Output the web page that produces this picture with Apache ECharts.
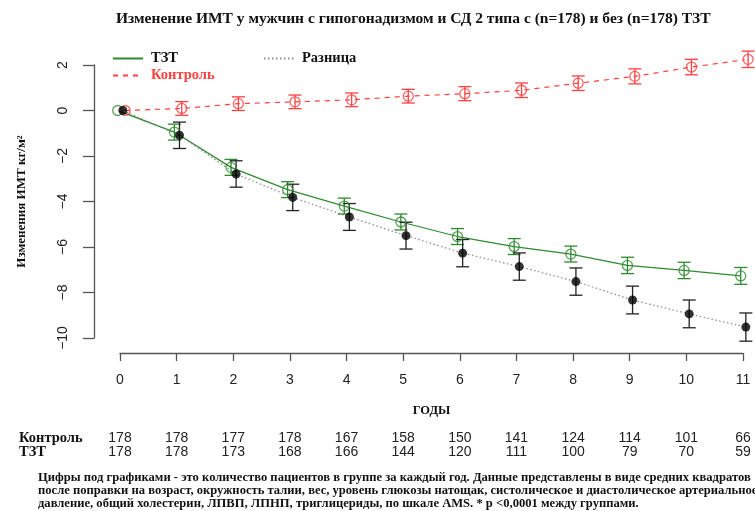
<!DOCTYPE html>
<html><head><meta charset="utf-8">
<script src="https://cdn.jsdelivr.net/npm/echarts@6/dist/echarts.min.js"></script>
<style>html,body{margin:0;padding:0;background:#fff}#c{width:755px;height:511px}</style>
</head><body><div id="c"></div>
<script>
// ---- data ----
const years = [0,1,2,3,4,5,6,7,8,9,10,11];
const controlMean = [0, 0.09, 0.30, 0.38, 0.47, 0.63, 0.74, 0.89, 1.20, 1.50, 1.91, 2.25];
const controlErr  = [0, 0.30, 0.30, 0.30, 0.30, 0.30, 0.31, 0.32, 0.32, 0.33, 0.34, 0.36];
const tztMean     = [0, -0.95, -2.50, -3.48, -4.20, -4.90, -5.54, -5.98, -6.31, -6.81, -7.03, -7.27];
const tztErr      = [0, 0.35, 0.35, 0.35, 0.35, 0.35, 0.35, 0.35, 0.35, 0.36, 0.36, 0.37];
const diffMean    = [0, -1.09, -2.79, -3.82, -4.68, -5.50, -6.27, -6.86, -7.52, -8.33, -8.94, -9.52];
const diffErr     = [0, 0.58, 0.58, 0.58, 0.59, 0.59, 0.60, 0.60, 0.60, 0.61, 0.61, 0.62];
const controlN    = [178, 178, 177, 178, 167, 158, 150, 141, 124, 114, 101, 66];
const tztN        = [178, 178, 173, 168, 166, 144, 120, 111, 100, 79, 70, 59];
const yTicks = { min: -10, max: 2, step: 2 };
const titleText = 'Изменение ИМТ у мужчин с гипогонадизмом и СД 2 типа с (n=178) и без (n=178) ТЗТ';
const yName = 'Изменения ИМТ кг/м²';
const xName = 'ГОДЫ';
const footnote = [
  'Цифры под графиками - это количество пациентов в группе за каждый год. Данные представлены в виде средних квадратов',
  'после поправки на возраст, окружность талии, вес, уровень глюкозы натощак, систолическое и диастолическое артериальное',
  'давление, общий холестерин, ЛПВП, ЛПНП, триглицериды, по шкале AMS. * p <0,0001 между группами.'
];

// ---- style ----
const RED = '#ff4040', GREEN = '#2f8a2f', BLACK = '#000', GRAYDOT = '#8a8a8a';
const DODGE = { control: 0.09, tzt: -0.04, diff: 0.05 }; // horizontal dodge (years)
const SERIF = '"Liberation Serif", "DejaVu Serif", serif';
const SANS = '"Liberation Sans", Arial, sans-serif';

const pts = (mean, d) => years.map((y, i) => [y + d, mean[i]]);
const bars = (mean, err, d) => years.map((y, i) => [y + d, mean[i] - err[i], mean[i] + err[i]]).filter((r, i) => err[i] > 0);

function errRender(color) {
  return function (params, api) {
    const x = api.value(0);
    const lo = api.coord([x, api.value(1)]);
    const hi = api.coord([x, api.value(2)]);
    const w = 6.5;
    const st = { stroke: color, lineWidth: 1.3 };
    return { type: 'group', children: [
      { type: 'line', shape: { x1: lo[0], y1: lo[1], x2: hi[0], y2: hi[1] }, style: st },
      { type: 'line', shape: { x1: lo[0] - w, y1: lo[1], x2: lo[0] + w, y2: lo[1] }, style: st },
      { type: 'line', shape: { x1: hi[0] - w, y1: hi[1], x2: hi[0] + w, y2: hi[1] }, style: st }
    ]};
  };
}

const chart = echarts.init(document.getElementById('c'), null, { renderer: 'canvas' });
const legendText = { fontFamily: SERIF, fontWeight: 'bold', fontSize: 14.5, color: '#111', padding: [0, 0, 0, 3] };
const legendItem = { color: 'rgba(0,0,0,0)', borderColor: 'rgba(0,0,0,0)', borderWidth: 0, opacity: 0 };
chart.setOption({
  animation: false,
  backgroundColor: '#fff',
  title: { text: titleText, left: 111, top: 6, textStyle: { fontFamily: SERIF, fontWeight: 'bold', fontSize: 15.5, color: '#111' } },
  legend: [
    { data: ['ТЗТ', 'Разница'], left: 107, top: 46, itemWidth: 30, itemHeight: 12, itemGap: 85, selectedMode: false, textStyle: legendText, itemStyle: legendItem },
    { data: [{ name: 'Контроль', textStyle: { color: RED } }], left: 107, top: 63, itemWidth: 30, itemHeight: 12, selectedMode: false, textStyle: legendText, itemStyle: legendItem }
  ],
  grid: { left: 120, right: 12, top: 65, bottom: 173, containLabel: false },
  xAxis: [
    { type: 'value', min: 0, max: 11, interval: 1, offset: 15,
      axisLine: { show: true, onZero: false, lineStyle: { color: '#555', width: 1.3 } },
      axisTick: { show: true, length: 8, lineStyle: { color: '#555', width: 1.3 } },
      axisLabel: { margin: 20, fontFamily: SANS, fontSize: 14, color: '#222' },
      splitLine: { show: false },
      name: xName, nameLocation: 'middle', nameGap: 51,
      nameTextStyle: { fontFamily: SERIF, fontWeight: 'bold', fontSize: 12.5, color: '#111' } },
    { type: 'value', min: 0, max: 11, interval: 1, offset: 100, position: 'bottom',
      axisLine: { show: false, onZero: false }, axisTick: { show: false }, splitLine: { show: false },
      axisLabel: { margin: 0, verticalAlign: 'middle', fontFamily: SANS, fontSize: 14, color: '#222', formatter: v => controlN[v] },
      name: 'Контроль', nameLocation: 'start', nameGap: 101,
      nameTextStyle: { align: 'left', verticalAlign: 'middle', fontFamily: SERIF, fontWeight: 'bold', fontSize: 14.5, color: '#111' } },
    { type: 'value', min: 0, max: 11, interval: 1, offset: 114, position: 'bottom',
      axisLine: { show: false, onZero: false }, axisTick: { show: false }, splitLine: { show: false },
      axisLabel: { margin: 0, verticalAlign: 'middle', fontFamily: SANS, fontSize: 14, color: '#222', formatter: v => tztN[v] },
      name: 'ТЗТ', nameLocation: 'start', nameGap: 101,
      nameTextStyle: { align: 'left', verticalAlign: 'middle', fontFamily: SERIF, fontWeight: 'bold', fontSize: 14.5, color: '#111' } }
  ],
  yAxis: { type: 'value', min: yTicks.min, max: yTicks.max, interval: yTicks.step, offset: 26,
    axisLine: { show: true, onZero: false, lineStyle: { color: '#555', width: 1.3 } },
    axisTick: { show: true, length: 11, lineStyle: { color: '#555', width: 1.3 } },
    axisLabel: { rotate: 90, margin: 24, fontFamily: SANS, fontSize: 14, color: '#222', formatter: v => String(v).replace('-', '−') },
    splitLine: { show: false },
    name: yName, nameLocation: 'middle', nameGap: 66,
    nameTextStyle: { fontFamily: SERIF, fontWeight: 'bold', fontSize: 13, color: '#111' } },
  graphic: [
    { type: 'text', left: 38, top: 471, style: { text: footnote.join('\n'), fontFamily: SERIF, fontWeight: 'bold', fontSize: 12.6, lineHeight: 13, fill: '#111' } }
  ],
  series: [
    { name: 'ТЗТ', type: 'line', data: pts(tztMean, DODGE.tzt), symbol: 'none', clip: false, z: 2,
      lineStyle: { color: GREEN, width: 1.2, type: 'solid' }, itemStyle: { color: GREEN } },
    { name: 'Контроль', type: 'line', data: pts(controlMean, DODGE.control), symbol: 'none', clip: false, z: 2,
      lineStyle: { color: RED, width: 1.2, type: [5, 5] }, itemStyle: { color: RED } },
    { name: 'Разница', type: 'line', data: pts(diffMean, DODGE.diff), symbol: 'none', clip: false, z: 2,
      lineStyle: { color: GRAYDOT, width: 1.2, type: [1.5, 2.5] }, itemStyle: { color: GRAYDOT } },
    { name: 'errTZT', type: 'custom', data: bars(tztMean, tztErr, DODGE.tzt), renderItem: errRender(GREEN), clip: false, z: 3 },
    { name: 'errControl', type: 'custom', data: bars(controlMean, controlErr, DODGE.control), renderItem: errRender(RED), clip: false, z: 3 },
    { name: 'errDiff', type: 'custom', data: bars(diffMean, diffErr, DODGE.diff), renderItem: errRender('#222'), clip: false, z: 3 },
    { name: 'ptsTZT', type: 'scatter', data: pts(tztMean, DODGE.tzt), symbol: 'circle', symbolSize: 10, clip: false, z: 4,
      itemStyle: { color: 'rgba(255,255,255,0)', borderColor: GREEN, borderWidth: 1.3 } },
    { name: 'ptsControl', type: 'scatter', data: pts(controlMean, DODGE.control), symbol: 'circle', symbolSize: 10, clip: false, z: 4,
      itemStyle: { color: 'rgba(255,255,255,0)', borderColor: RED, borderWidth: 1.3 } },
    { name: 'ptsDiff', type: 'scatter', data: pts(diffMean, DODGE.diff), symbol: 'circle', symbolSize: 9, clip: false, z: 5,
      itemStyle: { color: BLACK } }
  ]
});
</script></body></html>
